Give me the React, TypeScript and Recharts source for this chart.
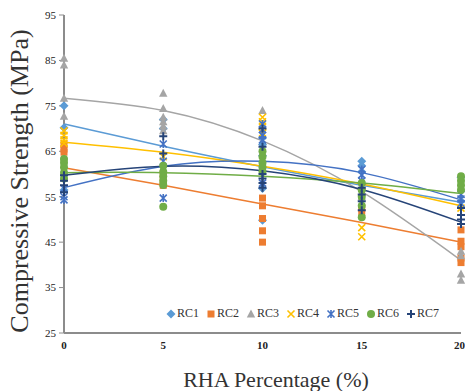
import React from 'react'
import { ComposedChart, Scatter, Line, XAxis, YAxis, Legend } from 'recharts'

const X_VALUES = [0, 5, 10, 15, 20]
const Y_TICKS = [25, 35, 45, 55, 65, 75, 85, 95]

// measured strengths, one list per RHA percentage
const RC1 = [[75, 70.2, 56.5], [72, 70], [68, 66.5, 64, 56.8, 49.8], [62.8, 61.8, 60.5], [59.3, 54]]
const RC2 = [[66.5, 65.5, 64.8], [60, 58.5, 57.5], [54.7, 53, 50.2, 47.5, 45], [52.5, 51.5], [47.7, 45.2, 44, 41.5, 40.5]]
const RC3 = [[85.5, 84, 76.7, 72.7], [77.8, 74.4, 72.5, 71.5, 70.5, 69.5], [74], [55], [43, 42, 38, 36.6]]
const RC4 = [[69.5, 68.5, 67.5, 66.8], [63.8], [72.5, 71.5, 70.5, 69], [56, 48.2, 46.2], [52.5]]
const RC5 = [[56.8, 55, 54.3], [66.6, 62.8, 54.7], [71, 69.8, 68.5, 67.5, 58], [61, 59.8, 58.5], [55.5, 54.5, 53.5]]
const RC6 = [[63.3, 62.5, 61.5, 60.3, 59], [61.8, 60.5, 59.5, 58.5, 57.6, 52.8], [65, 63.8, 62.5, 61.5, 60.5], [58, 56.5, 55, 53, 50.5], [59.5, 58.5, 57.5, 56.5]]
const RC7 = [[59.7, 58.5, 57.5, 56], [68.3, 64.5], [70, 66, 60, 59, 58, 57], [57, 55.5, 54, 52], [52.5, 51, 50, 49]]

// polynomial trendline values read at each x
const RC1_TREND = [71, 66.1, 61.6, 57.5, 53.8]
const RC2_TREND = [61.4, 57.5, 53.4, 49.3, 45]
const RC3_TREND = [76.7, 74, 67.3, 56.1, 41]
const RC4_TREND = [67, 64.8, 61.7, 57.8, 53]
const RC5_TREND = [57, 61.7, 62.8, 60.3, 54.3]
const RC6_TREND = [60.3, 60.3, 59.5, 58, 55.7]
const RC7_TREND = [59.7, 61.7, 60.7, 56.6, 49.4]

type Kind = 'diamond' | 'square' | 'triangle' | 'x' | 'star' | 'circle' | 'plus'

function marker(kind: Kind, color: string, cx: number, cy: number) {
  switch (kind) {
    case 'diamond':
      return <path d={`M${cx},${cy - 4.5}L${cx + 4.5},${cy}L${cx},${cy + 4.5}L${cx - 4.5},${cy}Z`} fill={color} />
    case 'square':
      return <rect x={cx - 3.5} y={cy - 3.5} width={7} height={7} fill={color} />
    case 'triangle':
      return <path d={`M${cx},${cy - 4.5}L${cx + 4.2},${cy + 3.5}L${cx - 4.2},${cy + 3.5}Z`} fill={color} />
    case 'x':
      return (
        <path d={`M${cx - 3.5},${cy - 3.5}L${cx + 3.5},${cy + 3.5}M${cx + 3.5},${cy - 3.5}L${cx - 3.5},${cy + 3.5}`} stroke={color} strokeWidth={1.6} />
      )
    case 'star':
      return (
        <path
          d={`M${cx - 3.5},${cy - 3.5}L${cx + 3.5},${cy + 3.5}M${cx + 3.5},${cy - 3.5}L${cx - 3.5},${cy + 3.5}M${cx},${cy - 4}L${cx},${cy + 4}`}
          stroke={color}
          strokeWidth={1.6}
        />
      )
    case 'circle':
      return <circle cx={cx} cy={cy} r={4} fill={color} />
    case 'plus':
      return <path d={`M${cx - 4},${cy}L${cx + 4},${cy}M${cx},${cy - 4}L${cx},${cy + 4}`} stroke={color} strokeWidth={2} />
  }
}

const SERIES: { name: string; color: string; kind: Kind; points: number[][]; trend: number[] }[] = [
  { name: 'RC1', color: '#5B9BD5', kind: 'diamond', points: RC1, trend: RC1_TREND },
  { name: 'RC2', color: '#ED7D31', kind: 'square', points: RC2, trend: RC2_TREND },
  { name: 'RC3', color: '#A5A5A5', kind: 'triangle', points: RC3, trend: RC3_TREND },
  { name: 'RC4', color: '#FFC000', kind: 'x', points: RC4, trend: RC4_TREND },
  { name: 'RC5', color: '#4472C4', kind: 'star', points: RC5, trend: RC5_TREND },
  { name: 'RC6', color: '#70AD47', kind: 'circle', points: RC6, trend: RC6_TREND },
  { name: 'RC7', color: '#264478', kind: 'plus', points: RC7, trend: RC7_TREND },
]

const FONT = '"Liberation Serif", "Times New Roman", serif'

function renderLegend() {
  return (
    <div style={{ display: 'flex', fontFamily: FONT, fontSize: 12, color: '#333' }}>
      {SERIES.map((s) => (
        <div key={s.name} style={{ width: 40, display: 'flex', alignItems: 'center' }}>
          <svg width={10} height={12} style={{ marginLeft: -5 }}>
            {marker(s.kind, s.color, 5, 6)}
          </svg>
          <span style={{ marginLeft: 1 }}>{s.name}</span>
        </div>
      ))}
    </div>
  )
}

export default function App() {
  return (
    <div style={{ position: 'absolute', left: 0, top: 0, width: 465, height: 391, background: '#fff' }}>
      <ComposedChart width={465} height={391} margin={{ top: 15, right: 4, bottom: 18, left: 0 }}>
        <XAxis
          type="number"
          dataKey="x"
          domain={[0, 20]}
          ticks={X_VALUES}
          tick={{ fontSize: 11, fill: '#222', fontFamily: FONT, fontWeight: 'bold' }}
          tickLine={false}
          axisLine={{ stroke: '#8c8c8c', strokeWidth: 2 }}
          height={25}
        />
        <YAxis
          type="number"
          dataKey="y"
          domain={[25, 95]}
          ticks={Y_TICKS}
          interval={0}
          tick={{ fontSize: 11, fill: '#222', fontFamily: FONT }}
          tickLine={{ stroke: '#8c8c8c' }}
          tickSize={5}
          tickMargin={3}
          axisLine={{ stroke: '#8c8c8c', strokeWidth: 2 }}
          width={64}
        />
        {SERIES.map((s) => (
          <Scatter
            key={s.name}
            name={s.name}
            data={X_VALUES.flatMap((x, i) => s.points[i].map((y) => ({ x, y })))}
            fill={s.color}
            shape={(p: any) => marker(s.kind, s.color, p.cx, p.cy)}
            isAnimationActive={false}
          />
        ))}
        {SERIES.map((s) => (
          <Line
            key={s.name + '-trend'}
            data={X_VALUES.map((x, i) => ({ x, y: s.trend[i] }))}
            dataKey="y"
            type="natural"
            stroke={s.color}
            strokeWidth={1.5}
            dot={false}
            legendType="none"
            isAnimationActive={false}
          />
        ))}
        <Legend content={renderLegend} wrapperStyle={{ left: 171, top: 306, width: 290, bottom: 'auto' }} />
      </ComposedChart>
      <div
        style={{
          position: 'absolute',
          left: 20,
          top: 181,
          transform: 'translate(-50%, -50%) rotate(-90deg)',
          whiteSpace: 'nowrap',
          fontFamily: FONT,
          fontSize: 26,
          color: '#333',
        }}
      >
        Compressive Strength (MPa)
      </div>
      <div
        style={{
          position: 'absolute',
          left: 276,
          top: 380,
          transform: 'translate(-50%, -50%)',
          whiteSpace: 'nowrap',
          fontFamily: FONT,
          fontSize: 22,
          color: '#333',
        }}
      >
        RHA Percentage (%)
      </div>
    </div>
  )
}
